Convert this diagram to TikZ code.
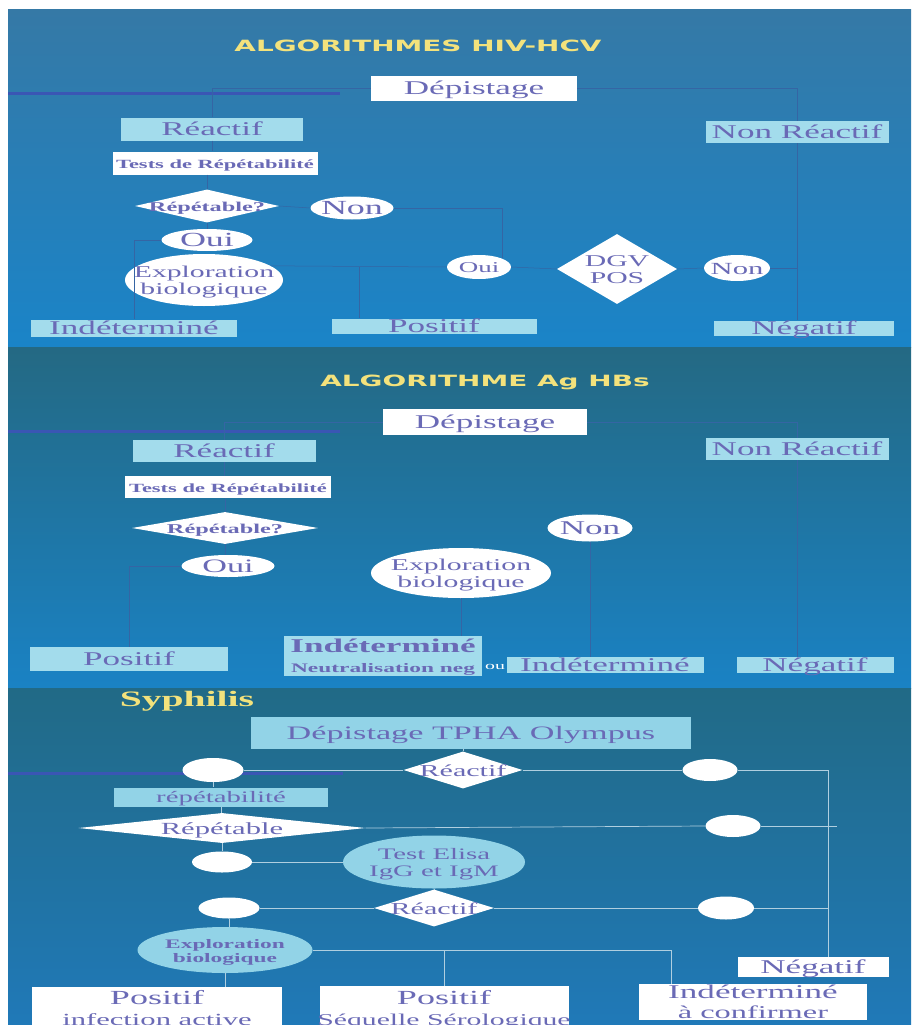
\documentclass[tikz,border=0pt]{standalone}
\usepackage{fontspec}
\setmainfont{Liberation Serif}
\newfontfamily\headfont{DejaVu Sans}
\usepackage{graphicx}
\usetikzlibrary{shapes.geometric}

\definecolor{txc}{HTML}{6A6AB6}
\definecolor{ttlc}{HTML}{F3E27C}
\definecolor{cyb}{HTML}{A3DCEC}
\definecolor{cyc}{HTML}{92D3E7}
\definecolor{lnd}{HTML}{3565A4}
\definecolor{lnl}{HTML}{B0CFE0}
\definecolor{strp}{HTML}{3A56B4}
\definecolor{pat}{HTML}{3579A6}
\definecolor{pam}{HTML}{2576B0}
\definecolor{pab}{HTML}{1A84C8}
\definecolor{pbt}{HTML}{246983}
\definecolor{pbm}{HTML}{22709A}
\definecolor{pbb}{HTML}{1A82C4}
\definecolor{pct}{HTML}{216A86}
\definecolor{pcm}{HTML}{1F7198}
\definecolor{pcb}{HTML}{2079B8}

\newcommand\sx[1]{\scalebox{1.8}[1]{\begin{tabular}{@{}c@{}}#1\end{tabular}}}
\renewcommand\arraystretch{1.05}

\tikzset{
  wbox/.style={rectangle, fill=white, inner sep=0pt},
  cbox/.style={rectangle, fill=cyb, inner sep=0pt},
  wel/.style={ellipse, fill=white, inner sep=0pt},
  cel/.style={ellipse, fill=cyc, inner sep=0pt},
  wdia/.style={diamond, fill=white, inner sep=0pt},
  txt/.style={text=txc, inner sep=0pt, yshift=-2.5pt},
  lab/.style 2 args={label={[txt, font=\fontsize{#1}{#1}\selectfont]center:\sx{#2}}},
  labb/.style 2 args={label={[txt, font=\fontsize{#1}{#1}\selectfont\bfseries]center:\sx{#2}}},
  ttl/.style={text=ttlc, inner sep=0pt},
  cn/.style={draw=lnd, line width=0.5pt},
  cl/.style={draw=lnl, line width=0.7pt},
  stripe/.style={draw=strp, line width=3pt}
}

\begin{document}
\begin{tikzpicture}[x=1pt, y=-1pt]
  \useasboundingbox (0,0) rectangle (911,1025);
  \clip (0,0) rectangle (911,1025);
  \fill[white] (0,0) rectangle (911,1025);

  %% backgrounds of the three slides
  \shade[top color=pat, middle color=pam, bottom color=pab] (8,10) rectangle (911,347);
  \shade[top color=pbt, middle color=pbm, bottom color=pbb] (8,347) rectangle (911,688);
  \shade[top color=pct, middle color=pcm, bottom color=pcb] (8,688) rectangle (911,1025);
  \draw[stripe] (8,93) -- (340,93);
  \draw[stripe] (8,431) -- (340,431);
  \draw[stripe] (8,773) -- (343,773);

  %% HIV-HCV
  \node[ttl, font=\headfont\bfseries\fontsize{15.5}{15.5}\selectfont] (t1) at (418,48) {\sx{ALGORITHMES HIV-HCV}};
  \node[wbox, minimum width=206, minimum height=25, lab={19.5}{Dépistage}] (dep1) at (474,88) {};
  \node[cbox, minimum width=182, minimum height=23, lab={19.5}{Réactif}] (rea1) at (212,129) {};
  \node[cbox, minimum width=183, minimum height=22, lab={19.5}{Non Réactif}] (nrea1) at (797,132) {};
  \node[wbox, minimum width=205, minimum height=23, labb={12.5}{Tests de Répétabilité}] (tst1) at (215,163) {};
  \node[wdia, minimum width=144, minimum height=33, labb={13.5}{Répétable?}] (rep1) at (207,206) {};
  \node[wel, minimum width=83, minimum height=23, lab={20}{Non}] (non1) at (352,208) {};
  \node[wel, minimum width=91, minimum height=22, lab={20}{Oui}] (oui1) at (207,240) {};
  \node[wel, minimum width=158, minimum height=52, lab={16.5}{Exploration\\biologique}] (exp1) at (204,280) {};
  \node[wel, minimum width=64, minimum height=24, lab={15}{Oui}] (oui2) at (479,267) {};
  \node[wdia, minimum width=120, minimum height=70, lab={16.5}{DGV\\POS}] (dgv) at (617,269) {};
  \node[wel, minimum width=66, minimum height=26, lab={17}{Non}] (non2) at (737,268) {};
  \node[cbox, minimum width=206, minimum height=17, lab={19.5}{Indéterminé}] (ind1) at (134,328) {};
  \node[cbox, minimum width=205, minimum height=15, lab={19.5}{Positif}] (pos1) at (434,326) {};
  \node[cbox, minimum width=180, minimum height=15, lab={19.5}{Négatif}] (neg1) at (804,328) {};
  \coordinate (j1) at (359,267);

  \draw[cn] (dep1.west) -| (rea1.north);
  \draw[cn] (dep1.east) -| (nrea1.north);
  \draw[cn] (rea1.south) -- (rea1.south |- tst1.north);
  \draw[cn] (rep1.north |- tst1.south) -- (rep1.north);
  \draw[cn] (rep1.south) -- (oui1.north);
  \draw[cn] (rep1.east) -- (non1.west);
  \draw[cn] (non1.east) -| (oui2.north east);
  \draw[cn] (oui1.west) -| (ind1.north);
  \draw[cn] (exp1.12) -- (oui2.west);
  \draw[cn] (j1) -- (j1 |- pos1.north);
  \draw[cn] (oui2.east) -- (dgv.west);
  \draw[cn] (dgv.east) -- (non2.west);
  \draw[cn] (nrea1.south) -- (nrea1.south |- neg1.north);
  \draw[cn] (non2.east) -- (non2.east -| nrea1.south);

  %% Ag HBs
  \node[ttl, font=\headfont\bfseries\fontsize{15.5}{15.5}\selectfont] (t2) at (485,383) {\sx{ALGORITHME Ag HBs}};
  \node[wbox, minimum width=204, minimum height=26, lab={19.5}{Dépistage}] (dep2) at (485,422) {};
  \node[cbox, minimum width=183, minimum height=22, lab={19.5}{Réactif}] (rea2) at (224,451) {};
  \node[cbox, minimum width=183, minimum height=22, lab={19.5}{Non Réactif}] (nrea2) at (797,449) {};
  \node[wbox, minimum width=206, minimum height=22, labb={12.5}{Tests de Répétabilité}] (tst2) at (228,487) {};
  \node[wdia, minimum width=186, minimum height=32, labb={13.5}{Répétable?}] (rep2) at (225,528) {};
  \node[wel, minimum width=93, minimum height=22, lab={19}{Oui}] (oui3) at (228,566) {};
  \node[wel, minimum width=180, minimum height=50, lab={16.5}{Exploration\\biologique}] (exp2) at (461,573) {};
  \node[wel, minimum width=85, minimum height=27, lab={19.5}{Non}] (non3) at (590,528) {};
  \node[cbox, minimum width=198, minimum height=24, lab={19.5}{Positif}] (pos2) at (129,659) {};
  \node[cbox, minimum width=198, minimum height=40, labb={19.5}{Indéterminé\\{\fontsize{13}{13}\selectfont Neutralisation neg}}] (ind2) at (383,656) {};
  \node[text=white, inner sep=0pt, font=\fontsize{11}{11}\selectfont] (ou) at (495,667) {\sx{ou}};
  \node[cbox, minimum width=197, minimum height=16, lab={19.5}{Indéterminé}] (ind2b) at (605,665) {};
  \node[cbox, minimum width=157, minimum height=16, lab={19.5}{Négatif}] (neg2) at (815,665) {};

  \draw[cn] (dep2.west) -| (rea2.north);
  \draw[cn] (dep2.east) -| (nrea2.north);
  \draw[cn] (rea2.south) -- (rea2.south |- tst2.north);
  \draw[cn] (rep2.north |- tst2.south) -- (rep2.north);
  \draw[cn] (rep2.south) -- (rep2.south |- oui3.north);
  \draw[cn] (oui3.west) -| (pos2.north);
  \draw[cn] (exp2.south) -- (exp2.south |- ind2.north);
  \draw[cn] (non3.south) -- (non3.south |- ind2b.north);
  \draw[cn] (nrea2.south) -- (nrea2.south |- neg2.north);

  %% Syphilis
  \node[ttl, font=\bfseries\fontsize{22}{22}\selectfont] (t3) at (187,702) {\sx{Syphilis}};
  \node[cbox, fill=cyc, minimum width=440, minimum height=32, lab={19}{Dépistage TPHA Olympus}] (dep3) at (471,733) {};
  \node[wel, minimum width=61, minimum height=24] (e1) at (213,770) {};
  \node[wdia, minimum width=119, minimum height=37, lab={16.7}{Réactif}] (rea3) at (463,770) {};
  \node[wel, minimum width=55, minimum height=22] (e2) at (710,770) {};
  \node[cbox, fill=cyc, minimum width=214, minimum height=19, lab={16}{répétabilité}] (rpt) at (221,797) {};
  \node[wdia, minimum width=287, minimum height=30, lab={17}{Répétable}] (rep3) at (222,828) {};
  \node[wel, minimum width=55, minimum height=22] (e3) at (733,826) {};
  \node[wel, minimum width=60, minimum height=21] (e4) at (222,862) {};
  \node[cel, minimum width=182, minimum height=53, lab={16}{Test Elisa\\IgG et IgM}] (elisa) at (434,862) {};
  \node[wel, minimum width=61, minimum height=21] (e5) at (229,908) {};
  \node[wdia, minimum width=120, minimum height=37, lab={16.7}{Réactif}] (rea4) at (434,908) {};
  \node[wel, minimum width=56, minimum height=23] (e6) at (726,908) {};
  \node[cel, minimum width=175, minimum height=46, labb={13}{Exploration\\biologique}] (exp3) at (225,950) {};
  \node[wbox, minimum width=151, minimum height=20, lab={19.5}{Négatif}] (neg3) at (813,967) {};
  \node[wbox, minimum width=250, minimum height=42, lab={20}{Positif\\{\fontsize{17}{17}\selectfont infection active}}] (pos3a) at (157,1008) {};
  \node[wbox, minimum width=249, minimum height=44, lab={20}{Positif\\{\fontsize{16.5}{16.5}\selectfont Séquelle Sérologique}}] (pos3b) at (444,1008) {};
  \node[wbox, minimum width=228, minimum height=36, lab={19.5}{Indéterminé\\{\fontsize{18}{18}\selectfont à confirmer}}] (ind3) at (753,1002) {};
  \coordinate (rx) at (828,770);
  \coordinate (rx2) at (837,826);
  \coordinate (k3) at (671,950);

  \draw[cl] (rea3.north) -- (rea3.north |- dep3.south);
  \draw[cl] (rea3.west) -- (e1.east);
  \draw[cl] (rea3.east) -- (e2.west);
  \draw[cl] (e2.east) -- (rx) -- (rx |- neg3.north);
  \draw[cl] (e1.south) -- (e1.south |- rpt.north);
  \draw[cl] (rpt.south) -- (rpt.south |- rep3.north);
  \draw[cl] (rep3.east) -- (e3.west);
  \draw[cl] (e3.east) -- (rx2);
  \draw[cl] (rep3.south) -- (rep3.south |- e4.north);
  \draw[cl] (e4.east) -- (elisa.west);
  \draw[cl] (elisa.south) -- (rea4.north);
  \draw[cl] (rea4.west) -- (e5.east);
  \draw[cl] (rea4.east) -- (e6.west);
  \draw[cl] (e6.east) -- (e6.east -| rx);
  \draw[cl] (e5.south) -- (e5.south |- exp3.north);
  \draw[cl] (exp3.east) -- (k3) -- (k3 |- ind3.north);
  \draw[cl] (pos3b.north) -- (pos3b.north |- k3);
  \draw[cl] (exp3.south) -- (exp3.south |- pos3a.north);
\end{tikzpicture}
\end{document}
